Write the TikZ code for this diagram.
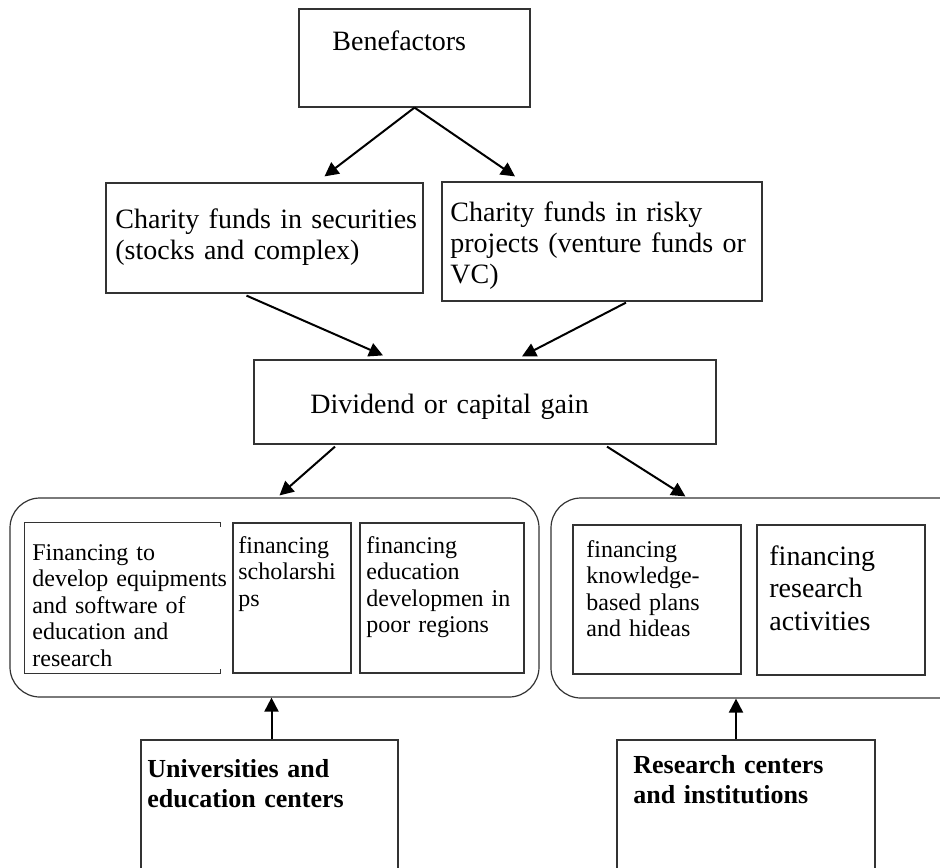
\documentclass[tikz,border=0pt]{standalone}
\usepackage{fontspec}
\setmainfont{Liberation Serif}
\usetikzlibrary{arrows.meta, positioning, calc, fit}

\begin{document}
\begin{tikzpicture}[x=0.5pt, y=-0.5pt,
    box/.style={draw=black!80, line width=0.6pt, inner sep=0pt},
    roundbox/.style={box, rounded corners=15pt},
    flow/.style={-{Triangle[length=7pt, width=7pt]}, line width=1pt},
    txt/.style={anchor=base west, inner sep=0pt, align=left, text width=250pt},
    big/.style={font=\fontsize{14}{15.5}\selectfont},
    small/.style={font=\fontsize{12}{13.3}\selectfont},
    mid/.style={font=\fontsize{14}{16.25}\selectfont},
    heavy/.style={font=\fontsize{13}{15}\selectfont\bfseries}]
\useasboundingbox (0,0) rectangle (940,867);
\clip (0,0) rectangle (940,867);
% Benefactors on top
\node[box, fit={(299,9) (530,107)}] (bene) {};
\node[txt, big] (beneT) at (332,50) {Benefactors};
% the two charity funds
\node[box, fit={(106,183) (423,293)}] (secfund) {};
\node[txt, big] (secT) at (115,228) {Charity funds in securities\\(stocks and complex)};
\node[box, fit={(442,182) (762,301)}] (riskfund) {};
\node[txt, big] (riskT) at (450,221) {Charity funds in risky\\projects (venture funds or\\VC)};
% what the funds give back
\node[box, fit={(254,360) (716,444)}] (gain) {};
\node[txt, big] (gainT) at (310,413) {Dividend or capital gain};
% education group (left)
\node[roundbox, fit={(10,498) (539,697)}] (eduset) {};
\node[inner sep=0pt, fit={(25,523) (220,673)}] (edu1) {};
\draw[black!80, line width=0.6pt] ([yshift=-2pt]edu1.north east) -- (edu1.north east) -- (edu1.north west)
    -- (edu1.south west) -- (edu1.south east) -- ++(0,2pt);
\node[txt, small] (edu1T) at (32,560) {Financing to\\develop equipments\\and software of\\education and\\research};
\node[box, fit={(233,523) (351,673)}] (edu2) {};
\node[txt, small] (edu2T) at (238,553) {financing\\scholarshi\\ps};
\node[box, fit={(360,523) (524,673)}] (edu3) {};
\node[txt, small] (edu3T) at (366,553) {financing\\education\\developmen in\\poor regions};
% research group (right)
\node[roundbox, fit={(551,498) (975,698)}] (resset) {};
\node[box, fit={(573,525) (741,674)}] (res1) {};
\node[txt, small] (res1T) at (586,557) {financing\\knowledge-\\based plans\\and hideas};
\node[box, fit={(757,525) (925,675)}] (res2) {};
\node[txt, mid] (res2T) at (769,565) {financing\\research\\activities};
% receivers at the bottom
\node[box, fit={(141,740) (398,900)}] (univ) {};
\node[txt, heavy] (univT) at (147,777) {Universities and\\education centers};
\node[box, fit={(617,740) (875,900)}] (resins) {};
\node[txt, heavy] (resinsT) at (633,773) {Research centers\\and institutions};
% arrows down
\draw[flow] (bene.south) -- ($(secfund.north)+(60,-6)$);
\draw[flow] (bene.south) -- ($(riskfund.north)+(-87,-5)$);
\draw[flow] ($(secfund.south)+(-18,2)$) -- ($(gain.north)+(-102,-4)$);
\draw[flow] ($(riskfund.south)+(24,1)$) -- ($(gain.north)+(37,-3)$);
\draw[flow] ($(gain.south)+(-150,2)$) -- ($(eduset.north)+(5,-2)$);
\draw[flow] ($(gain.south)+(122,2)$) -- ($(resset.north west)+(135,-1)$);
% arrows up
\draw[flow] ([xshift=1pt]univ.north) -- ([xshift=1pt]univ.north |- eduset.south);
\draw[flow] ([xshift=-5pt]resins.north) -- ([xshift=-5pt]resins.north |- resset.south);
\end{tikzpicture}
\end{document}
